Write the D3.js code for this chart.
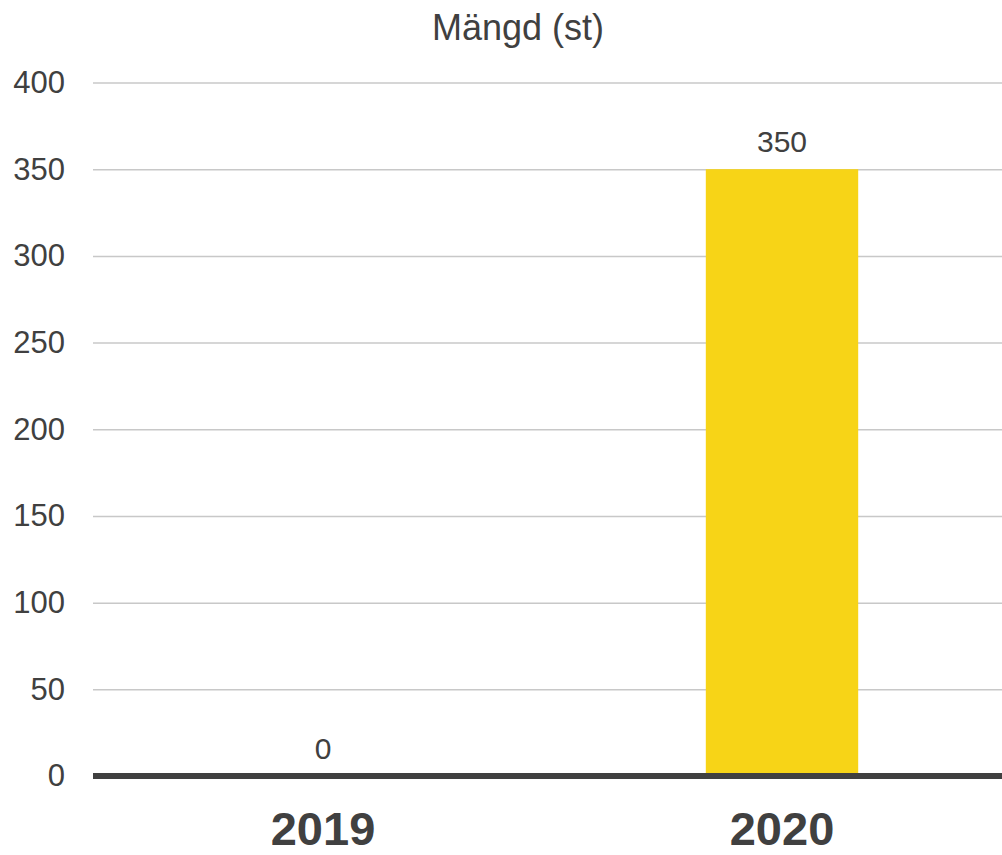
<!DOCTYPE html>
<html><head><meta charset="utf-8">
<script src="https://cdn.jsdelivr.net/npm/d3@7"></script>
<style>body{margin:0;background:#fff}svg{display:block}text{font-family:"Liberation Sans",Arial,sans-serif}</style>
</head><body>
<svg id="c" width="1002" height="855"></svg>
<script>
const categories = ["2019", "2020"];
const values = [0, 350];
const yTicks = [0, 50, 100, 150, 200, 250, 300, 350, 400];
const title = "Mängd (st)";

const svg = d3.select("#c");
const x = d3.scaleBand().domain(categories).range([93.5, 1011.5]).padding(0);
const y = d3.scaleLinear().domain([0, 400]).range([776, 82.5]);
const barFrac = 0.332;

svg.append("text").attr("x", 518).attr("y", 40).attr("text-anchor", "middle")
  .attr("font-size", 36).attr("fill", "#404040").text(title);

const yAxis = d3.axisLeft(y).tickValues(yTicks).tickSize(-(1002 - 93)).tickPadding(28);
const gy = svg.append("g").attr("transform", "translate(93,0)").call(yAxis);
gy.select(".domain").remove();
gy.selectAll(".tick line").attr("stroke", "#c8c8c8").attr("stroke-width", 1.5);
gy.selectAll(".tick text").attr("font-size", 31).attr("fill", "#404040")
  .attr("font-family", "Liberation Sans, Arial, sans-serif").attr("x", -28);

svg.append("g").selectAll("rect").data(values).join("rect")
  .attr("x", (d, i) => x(categories[i]) + x.bandwidth() * (1 - barFrac) / 2)
  .attr("width", x.bandwidth() * barFrac)
  .attr("y", d => y(d))
  .attr("height", d => y(0) - y(d))
  .attr("fill", "#F7D417");

svg.append("g").selectAll("text").data(values).join("text")
  .attr("x", (d, i) => x(categories[i]) + x.bandwidth() / 2)
  .attr("y", d => y(d) - 17)
  .attr("text-anchor", "middle").attr("font-size", 30).attr("fill", "#404040")
  .text(d => d);

const xAxis = d3.axisBottom(x).tickSize(0).tickPadding(50);
const gx = svg.append("g").attr("transform", `translate(0,${y(0)})`).call(xAxis);
gx.select(".domain").remove();
gx.selectAll(".tick text").attr("font-size", 47).attr("font-weight", "bold")
  .attr("fill", "#404040").attr("font-family", "Liberation Sans, Arial, sans-serif")
  .attr("dy", "0").attr("y", 69);

svg.append("line").attr("x1", 93).attr("x2", 1002).attr("y1", y(0)).attr("y2", y(0))
  .attr("stroke", "#404040").attr("stroke-width", 6);
</script>
</body></html>
